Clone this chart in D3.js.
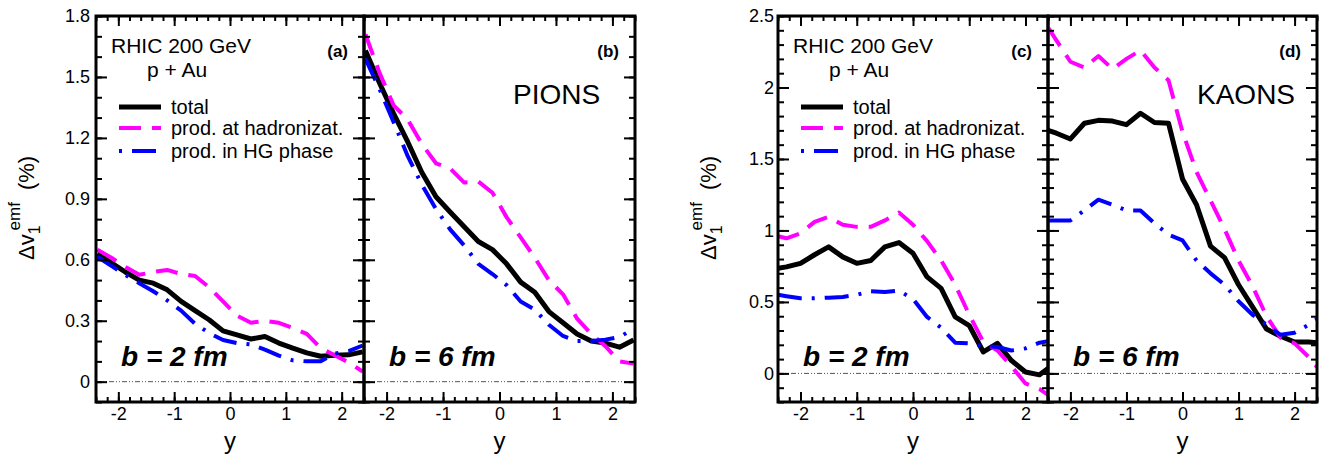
<!DOCTYPE html>
<html>
<head>
<meta charset="UTF-8">
<title></title>
<style>
  body { margin: 0; background: #fff; }
  svg text { font-family: 'Liberation Sans', Arial, Helvetica, sans-serif; fill: #000; }
  .tick text { font-size: 18px; }
  .tick line { stroke: #000; stroke-width: 2; }
</style>
</head>
<body>
<script src="https://d3js.org/d3.v7.min.js"></script>
<script>
// rapidity points
var rapPion = [-2.375,-2.125,-1.875,-1.625,-1.375,-1.125,-0.875,-0.625,-0.375,-0.125,
               0.125,0.375,0.625,0.875,1.125,1.375,1.625,1.875,2.125,2.375];
var rapKaon = [-2.4,-2.25,-2,-1.75,-1.5,-1.25,-1,-0.75,-0.5,-0.25,0,
               0.25,0.5,0.75,1,1.25,1.5,1.75,2,2.25,2.4];

// (a) pions, b = 2 fm
var totalA = [0.63,0.585,0.54,0.50,0.485,0.452,0.395,0.35,0.305,0.25,0.23,0.21,0.222,0.19,0.165,0.142,0.125,0.13,0.132,0.147];
var hadrA  = [0.65,0.61,0.565,0.526,0.54,0.55,0.53,0.52,0.465,0.395,0.325,0.29,0.30,0.29,0.265,0.235,0.165,0.13,0.095,0.05];
var hgA    = [0.615,0.57,0.525,0.485,0.445,0.40,0.35,0.285,0.24,0.205,0.19,0.183,0.158,0.128,0.105,0.10,0.10,0.138,0.15,0.178];
// (b) pions, b = 6 fm
var totalB = [1.63,1.47,1.32,1.18,1.03,0.91,0.835,0.763,0.69,0.65,0.58,0.49,0.44,0.345,0.29,0.235,0.20,0.19,0.17,0.205];
var hadrB  = [1.71,1.52,1.36,1.29,1.17,1.075,1.05,0.98,0.985,0.93,0.81,0.71,0.61,0.50,0.43,0.31,0.235,0.175,0.10,0.089];
var hgB    = [1.59,1.44,1.277,1.11,0.97,0.85,0.75,0.67,0.58,0.53,0.475,0.395,0.355,0.28,0.225,0.20,0.20,0.207,0.22,0.26];
// (c) kaons, b = 2 fm
var totalC = [0.735,0.745,0.77,0.83,0.885,0.815,0.77,0.79,0.885,0.915,0.84,0.675,0.595,0.395,0.335,0.15,0.21,0.09,0.01,-0.01,0.035];
var hadrC  = [0.96,0.945,0.98,1.06,1.095,1.04,1.025,1.025,1.07,1.125,1.04,0.925,0.79,0.62,0.41,0.22,0.16,0.05,-0.07,-0.11,-0.15];
var hgC    = [0.55,0.54,0.525,0.525,0.53,0.535,0.55,0.575,0.57,0.58,0.52,0.395,0.32,0.215,0.21,0.19,0.185,0.16,0.175,0.215,0.225];
// (d) kaons, b = 6 fm
var totalD = [1.70,1.68,1.64,1.75,1.77,1.765,1.74,1.82,1.755,1.75,1.36,1.18,0.89,0.81,0.62,0.465,0.31,0.26,0.22,0.22,0.215];
var hadrD  = [2.42,2.33,2.18,2.14,2.22,2.13,2.20,2.26,2.14,2.05,1.69,1.41,1.21,1.01,0.79,0.61,0.40,0.25,0.21,0.115,0.045];
var hgD    = [1.07,1.07,1.07,1.14,1.215,1.18,1.14,1.14,1.05,0.97,0.93,0.79,0.70,0.62,0.505,0.41,0.34,0.27,0.285,0.34,0.38];

var xTicks = [-2,-1,0,1,2];
var yTicksPion = [0,0.3,0.6,0.9,1.2,1.5,1.8];
var yTicksKaon = [0,0.5,1,1.5,2,2.5];
var legendLabels = ["total","prod. at hadronizat.","prod. in HG phase"];

var width = 1322, height = 455;
var top_ = 16, bottom = 402;

var svg = d3.select("body").append("svg")
    .attr("width", width)
    .attr("height", height);

var styles = {
  total: {color: "#000000", w: 5, dash: null},
  hadr:  {color: "#ff00ff", w: 4, dash: "22,11"},
  hg:    {color: "#0000ff", w: 4, dash: "24,10,3,10"}
};

var panels = [
  {tag:"(a)", x0:96,   x1:364,  ydom:[-0.1,1.8], minorStep:0.1, major:yTicksPion, pad:6, rap:rapPion,
   total:totalA, hadr:hadrA, hg:hgA, b:"b = 2 fm", left:true},
  {tag:"(b)", x0:364,  x1:635,  ydom:[-0.1,1.8], minorStep:0.1, major:yTicksPion, pad:6, rap:rapPion,
   total:totalB, hadr:hadrB, hg:hgB, b:"b = 6 fm", name:"PIONS"},
  {tag:"(c)", x0:778,  x1:1048, ydom:[-0.2,2.5], minorStep:0.1, major:yTicksKaon, pad:4, rap:rapKaon,
   total:totalC, hadr:hadrC, hg:hgC, b:"b = 2 fm", left:true},
  {tag:"(d)", x0:1048, x1:1317, ydom:[-0.2,2.5], minorStep:0.1, major:yTicksKaon, pad:4, rap:rapKaon,
   total:totalD, hadr:hadrD, hg:hgD, b:"b = 6 fm", name:"KAONS"}
];

function noDomain(g) { g.select(".domain").remove(); }

panels.forEach(function(p, i) {
  var x = d3.scaleLinear().domain([-2.4, 2.4]).range([p.x0, p.x1]);
  var y = d3.scaleLinear().domain(p.ydom).range([bottom, top_]);
  var g = svg.append("g");

  g.append("clipPath").attr("id", "clip" + i)
    .append("rect")
      .attr("x", p.x0).attr("y", top_)
      .attr("width", p.x1 - p.x0).attr("height", bottom - top_);

  // zero line
  g.append("line")
    .attr("x1", p.x0).attr("x2", p.x1)
    .attr("y1", y(0)).attr("y2", y(0))
    .attr("stroke", "#555").attr("stroke-width", 1)
    .attr("stroke-dasharray", "5,2,1,2,1,2");

  var line = d3.line()
      .x(function(d) { return x(d[0]); })
      .y(function(d) { return y(d[1]); });

  var curves = g.append("g").attr("clip-path", "url(#clip" + i + ")");
  ["total", "hadr", "hg"].forEach(function(key) {
    var s = styles[key];
    curves.append("path")
      .datum(d3.zip(p.rap, p[key]))
      .attr("d", line)
      .attr("fill", "none")
      .attr("stroke", s.color)
      .attr("stroke-width", s.w)
      .attr("stroke-linejoin", "round")
      .attr("stroke-dasharray", s.dash);
  });

  // ticks
  var yMinor = d3.range(p.ydom[0], p.ydom[1] + 0.001, p.minorStep);
  var xMinor = d3.range(-2.4, 2.401, 0.2);

  g.append("g").attr("transform", "translate(" + p.x0 + ",0)")
    .call(d3.axisLeft(y).tickValues(yMinor).tickSize(-6).tickFormat("")).call(noDomain);
  g.append("g").attr("transform", "translate(" + p.x1 + ",0)")
    .call(d3.axisRight(y).tickValues(yMinor).tickSize(-6).tickFormat("")).call(noDomain);
  g.append("g").attr("transform", "translate(" + p.x1 + ",0)")
    .call(d3.axisRight(y).tickValues(p.major).tickSize(-11).tickFormat("")).call(noDomain);
  g.append("g").attr("transform", "translate(" + p.x0 + ",0)")
    .call(d3.axisLeft(y).tickValues(p.major).tickSize(-11).tickPadding(p.pad)
      .tickFormat(function(d) { return p.left ? String(d) : ""; }))
    .call(noDomain);

  g.append("g").attr("transform", "translate(0," + bottom + ")")
    .call(d3.axisBottom(x).tickValues(xMinor).tickSize(-5).tickFormat("")).call(noDomain);
  g.append("g").attr("transform", "translate(0," + top_ + ")")
    .call(d3.axisTop(x).tickValues(xMinor).tickSize(-5).tickFormat("")).call(noDomain);
  g.append("g").attr("transform", "translate(0," + top_ + ")")
    .call(d3.axisTop(x).tickValues(xTicks).tickSize(-10).tickFormat("")).call(noDomain);
  g.append("g").attr("transform", "translate(0," + bottom + ")")
    .call(d3.axisBottom(x).tickValues(xTicks).tickSize(-10).tickPadding(5)
      .tickFormat(function(d) { return String(d); }))
    .call(noDomain);

  // frame
  g.append("rect")
    .attr("x", p.x0).attr("y", top_)
    .attr("width", p.x1 - p.x0).attr("height", bottom - top_)
    .attr("fill", "none").attr("stroke", "#000").attr("stroke-width", 3);

  // x title
  g.append("text")
    .attr("x", (p.x0 + p.x1) / 2).attr("y", 449)
    .attr("text-anchor", "middle")
    .style("font-size", "24px")
    .text("y");

  g.append("text")
    .attr("x", p.x1 - 16).attr("y", 57)
    .attr("text-anchor", "end")
    .style("font-size", "17px").style("font-weight", "bold")
    .text(p.tag);

  g.append("text")
    .attr("x", p.x0 + 25).attr("y", 366)
    .style("font-size", "28px").style("font-weight", "bold").style("font-style", "italic")
    .text(p.b);

  if (p.name) {
    g.append("text")
      .attr("x", p.x0 + 149).attr("y", 104)
      .style("font-size", "28px")
      .text(p.name);
  }

  if (p.left) {
    g.append("text")
      .attr("x", p.x0 + 15).attr("y", 53)
      .style("font-size", "21px")
      .text("RHIC 200 GeV");
    g.append("text")
      .attr("x", p.x0 + 51).attr("y", 77)
      .style("font-size", "21px")
      .text("p + Au");

    var rowsY = [107, 128, 151];
    ["total", "hadr", "hg"].forEach(function(key, k) {
      var s = styles[key];
      g.append("line")
        .attr("x1", p.x0 + 23).attr("x2", p.x0 + 65)
        .attr("y1", rowsY[k]).attr("y2", rowsY[k])
        .attr("stroke", s.color).attr("stroke-width", s.w)
        .attr("stroke-dasharray", key === "hg" ? "3,10,24,10" : s.dash);
      g.append("text")
        .attr("x", p.x0 + 75).attr("y", rowsY[k] + 7)
        .style("font-size", "20px")
        .text(legendLabels[k]);
    });

    // y title
    var t = g.append("text")
      .attr("transform", "translate(" + (p.x0 - 62) + ",260) rotate(-90)");
    t.append("tspan").style("font-size", "22px").text("\u0394v");
    t.append("tspan").style("font-size", "16px").attr("dy", 6).text("1");
    t.append("tspan").style("font-size", "17px").attr("dx", -5).attr("dy", -20).text("emf");
    t.append("tspan").style("font-size", "22px").attr("dx", 12).attr("dy", 14).text("(%)");
  }
});
</script>
</body>
</html>
